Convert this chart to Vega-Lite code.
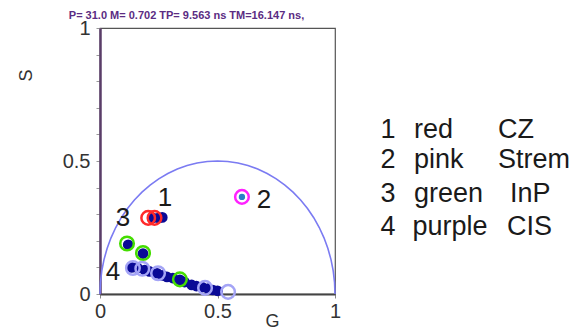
{
  "$schema": "https://vega.github.io/schema/vega-lite/v6.json",
  "width": 235,
  "height": 266,
  "autosize": "none",
  "padding": {"left": 100, "top": 28, "right": 244, "bottom": 37},
  "background": "white",
  "config": {
    "font": "Liberation Sans",
    "view": {"stroke": "#555555", "strokeWidth": 1.2}
  },
  "title": {
    "text": "P= 31.0 M= 0.702 TP= 9.563 ns TM=16.147 ns,",
    "fontSize": 11,
    "fontWeight": "bold",
    "color": "#5b2c83",
    "anchor": "middle",
    "dx": -31,
    "offset": -3,
    "font": "Liberation Sans"
  },
  "datasets": {
    "circle": [
      {"i": 0, "G": 1, "S": 0}, {"i": 1, "G": 0.9981, "S": 0.0436}, {"i": 2, "G": 0.9924, "S": 0.0868},
      {"i": 3, "G": 0.983, "S": 0.1294}, {"i": 4, "G": 0.9698, "S": 0.171}, {"i": 5, "G": 0.9532, "S": 0.2113},
      {"i": 6, "G": 0.933, "S": 0.25}, {"i": 7, "G": 0.9096, "S": 0.2868}, {"i": 8, "G": 0.883, "S": 0.3214},
      {"i": 9, "G": 0.8536, "S": 0.3536}, {"i": 10, "G": 0.8214, "S": 0.383}, {"i": 11, "G": 0.7868, "S": 0.4096},
      {"i": 12, "G": 0.75, "S": 0.433}, {"i": 13, "G": 0.7113, "S": 0.4532}, {"i": 14, "G": 0.671, "S": 0.4698},
      {"i": 15, "G": 0.6294, "S": 0.483}, {"i": 16, "G": 0.5868, "S": 0.4924}, {"i": 17, "G": 0.5436, "S": 0.4981},
      {"i": 18, "G": 0.5, "S": 0.5}, {"i": 19, "G": 0.4564, "S": 0.4981}, {"i": 20, "G": 0.4132, "S": 0.4924},
      {"i": 21, "G": 0.3706, "S": 0.483}, {"i": 22, "G": 0.329, "S": 0.4698}, {"i": 23, "G": 0.2887, "S": 0.4532},
      {"i": 24, "G": 0.25, "S": 0.433}, {"i": 25, "G": 0.2132, "S": 0.4096}, {"i": 26, "G": 0.1786, "S": 0.383},
      {"i": 27, "G": 0.1464, "S": 0.3536}, {"i": 28, "G": 0.117, "S": 0.3214}, {"i": 29, "G": 0.0904, "S": 0.2868},
      {"i": 30, "G": 0.067, "S": 0.25}, {"i": 31, "G": 0.0468, "S": 0.2113}, {"i": 32, "G": 0.0302, "S": 0.171},
      {"i": 33, "G": 0.017, "S": 0.1294}, {"i": 34, "G": 0.0076, "S": 0.0868}, {"i": 35, "G": 0.0019, "S": 0.0436},
      {"i": 36, "G": 0, "S": 0}
    ],
    "dots": [
      {"G": 0.225, "S": 0.286}, {"G": 0.25, "S": 0.286}, {"G": 0.265, "S": 0.288},
      {"G": 0.12, "S": 0.185}, {"G": 0.183, "S": 0.152},
      {"G": 0.135, "S": 0.1}, {"G": 0.16, "S": 0.098}, {"G": 0.19, "S": 0.09}, {"G": 0.21, "S": 0.085},
      {"G": 0.243, "S": 0.078}, {"G": 0.265, "S": 0.07}, {"G": 0.285, "S": 0.064}, {"G": 0.31, "S": 0.06},
      {"G": 0.34, "S": 0.053}, {"G": 0.36, "S": 0.045}, {"G": 0.39, "S": 0.034}, {"G": 0.41, "S": 0.03},
      {"G": 0.434, "S": 0.026}, {"G": 0.46, "S": 0.02}, {"G": 0.48, "S": 0.015}, {"G": 0.5, "S": 0.012}
    ],
    "rings": [
      {"G": 0.205, "S": 0.286, "group": "CZ"}, {"G": 0.232, "S": 0.286, "group": "CZ"},
      {"G": 0.604, "S": 0.365, "group": "Strem"},
      {"G": 0.115, "S": 0.19, "group": "InP"}, {"G": 0.183, "S": 0.154, "group": "InP"}, {"G": 0.34, "S": 0.055, "group": "InP"},
      {"G": 0.14, "S": 0.098, "group": "CIS"}, {"G": 0.18, "S": 0.095, "group": "CIS"}, {"G": 0.247, "S": 0.078, "group": "CIS"},
      {"G": 0.447, "S": 0.023, "group": "CIS"}, {"G": 0.545, "S": 0.008, "group": "CIS"}
    ],
    "strem": [{"G": 0.604, "S": 0.365}],
    "nums": [
      {"G": 0.277, "S": 0.361, "label": "1"}, {"G": 0.698, "S": 0.353, "label": "2"},
      {"G": 0.098, "S": 0.286, "label": "3"}, {"G": 0.055, "S": 0.083, "label": "4"}
    ],
    "key": [
      {"G": 1.226, "S": 0.617, "label": "1", "col": "n"}, {"G": 1.336, "S": 0.617, "label": "red", "col": "w"}, {"G": 1.694, "S": 0.617, "label": "CZ", "col": "w"},
      {"G": 1.226, "S": 0.504, "label": "2", "col": "n"}, {"G": 1.336, "S": 0.504, "label": "pink", "col": "w"}, {"G": 1.694, "S": 0.504, "label": "Strem", "col": "w"},
      {"G": 1.226, "S": 0.376, "label": "3", "col": "n"}, {"G": 1.336, "S": 0.376, "label": "green", "col": "w"}, {"G": 1.745, "S": 0.376, "label": "InP", "col": "w"},
      {"G": 1.226, "S": 0.252, "label": "4", "col": "n"}, {"G": 1.33, "S": 0.252, "label": "purple", "col": "w"}, {"G": 1.732, "S": 0.252, "label": "CIS", "col": "w"}
    ]
  },
  "encoding": {
    "x": {
      "field": "G", "type": "quantitative",
      "scale": {"domain": [0, 1], "nice": false, "zero": false},
      "axis": {
        "values": [0, 0.5, 1], "format": "~g", "labelFlush": false, "title": "G", "grid": false,
        "labelFontSize": 20, "labelColor": "#333333", "labelPadding": 3,
        "domainColor": "#444444", "domainWidth": 2,
        "tickColor": "#888888", "tickSize": 4,
        "titleFontSize": 18, "titleFontWeight": "normal", "titleColor": "#333333",
        "titleX": 172, "titleY": 18, "titleBaseline": "top"
      }
    },
    "y": {
      "field": "S", "type": "quantitative",
      "scale": {"domain": [0, 1], "nice": false, "zero": false},
      "axis": {
        "values": [0, 0.1, 0.2, 0.3, 0.4, 0.5, 0.6, 0.7, 0.8, 0.9, 1],
        "format": "~g", "labelFlush": false,
        "labelExpr": "datum.value == 0 || datum.value == 0.5 || datum.value == 1 ? datum.label : ''",
        "title": "S", "grid": false,
        "labelFontSize": 20, "labelColor": "#333333", "labelPadding": 6,
        "domainColor": "#5a3d68", "domainWidth": 2.5,
        "tickColor": "#999999", "tickSize": 4,
        "titleFontSize": 18, "titleFontWeight": "normal", "titleColor": "#333333",
        "titleX": -65, "titleY": 47
      }
    }
  },
  "layer": [
    {
      "data": {"name": "circle"},
      "mark": {"type": "line", "color": "#7b7bf2", "strokeWidth": 1.6, "clip": false},
      "encoding": {"order": {"field": "i", "type": "quantitative"}}
    },
    {
      "data": {"name": "dots"},
      "mark": {"type": "point", "filled": true, "color": "#0a0a96", "size": 115, "opacity": 1}
    },
    {
      "data": {"name": "strem"},
      "mark": {"type": "point", "filled": true, "color": "#2a80c8", "size": 40, "opacity": 1}
    },
    {
      "data": {"name": "rings"},
      "mark": {"type": "point", "filled": false, "size": 185, "strokeWidth": 2.5, "opacity": 1},
      "encoding": {
        "color": {
          "field": "group", "type": "nominal",
          "scale": {"domain": ["CZ", "Strem", "InP", "CIS"], "range": ["#ff2a2a", "#ff22ff", "#44dd00", "#a4a4f6"]},
          "legend": null
        }
      }
    },
    {
      "data": {"name": "nums"},
      "mark": {"type": "text", "fontSize": 26, "color": "#1a1a1a", "align": "center", "baseline": "middle", "font": "Liberation Sans"},
      "encoding": {"text": {"field": "label"}}
    },
    {
      "data": {"name": "key"},
      "transform": [{"filter": "datum.col == 'n'"}],
      "mark": {"type": "text", "fontSize": 27, "color": "#1a1a1a", "align": "center", "baseline": "middle", "font": "Liberation Sans"},
      "encoding": {"text": {"field": "label"}}
    },
    {
      "data": {"name": "key"},
      "transform": [{"filter": "datum.col == 'w'"}],
      "mark": {"type": "text", "fontSize": 27, "color": "#1a1a1a", "align": "left", "baseline": "middle", "font": "Liberation Sans"},
      "encoding": {"text": {"field": "label"}}
    }
  ]
}
